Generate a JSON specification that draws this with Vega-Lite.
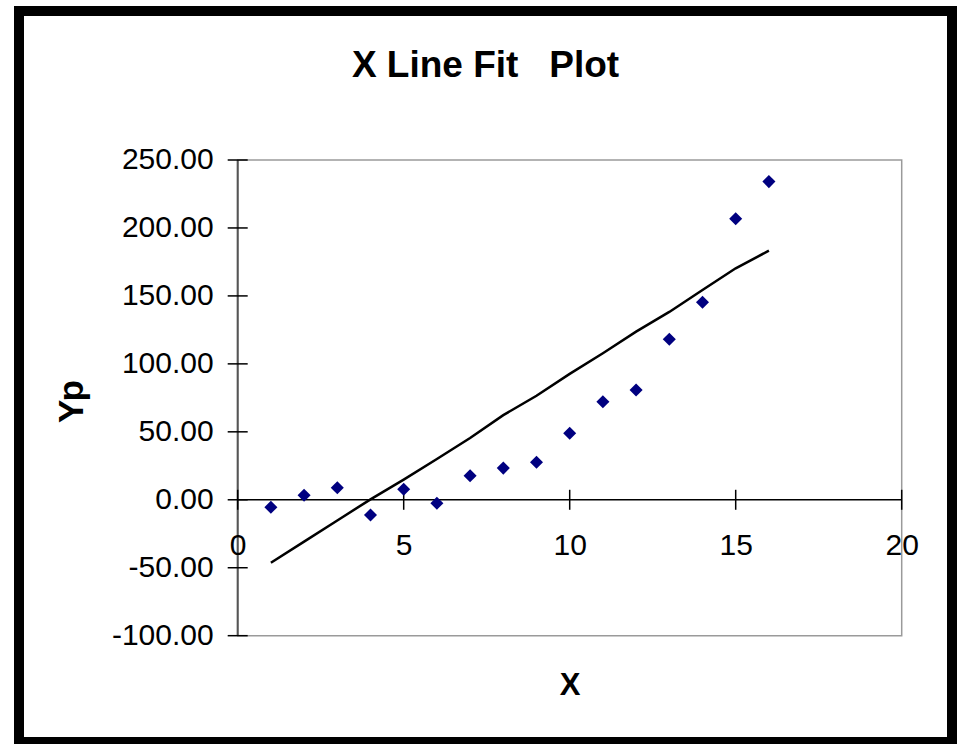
{
  "$schema": "https://vega.github.io/schema/vega-lite/v6.json",
  "autosize": {"type": "none"},
  "width": 933,
  "height": 731,
  "padding": {"left": 19, "top": 11, "right": 6, "bottom": 2},
  "background": "white",
  "title": {
    "text": "X Line Fit \u00a0 Plot",
    "font": "Liberation Sans",
    "fontSize": 37,
    "fontWeight": "bold",
    "color": "black",
    "anchor": "middle",
    "baseline": "alphabetic",
    "offset": -103
  },
  "datasets": {
    "frame": [{"x0": 0, "x1": 20, "y0": -100, "y1": 250}],
    "xticks": [{"v": 0}, {"v": 5}, {"v": 10}, {"v": 15}, {"v": 20}],
    "yticks": [{"v": -100}, {"v": -50}, {"v": 0}, {"v": 50}, {"v": 100}, {"v": 150}, {"v": 200}, {"v": 250}],
    "observed": [
      {"x": 1, "y": -5.5}, {"x": 2, "y": 3.3}, {"x": 3, "y": 8.9}, {"x": 4, "y": -11.2},
      {"x": 5, "y": 7.7}, {"x": 6, "y": -2.6}, {"x": 7, "y": 17.7}, {"x": 8, "y": 23.3},
      {"x": 9, "y": 27.6}, {"x": 10, "y": 48.9}, {"x": 11, "y": 72.2}, {"x": 12, "y": 80.8},
      {"x": 13, "y": 118.1}, {"x": 14, "y": 145.3}, {"x": 15, "y": 206.8}, {"x": 16, "y": 234.1}
    ],
    "predicted": [
      {"x": 1, "yp": -46.3}, {"x": 2, "yp": -30.8}, {"x": 3, "yp": -15.2}, {"x": 4, "yp": 0.3},
      {"x": 5, "yp": 14.8}, {"x": 6, "yp": 30.0}, {"x": 7, "yp": 45.5}, {"x": 8, "yp": 62.3},
      {"x": 9, "yp": 76.5}, {"x": 10, "yp": 92.6}, {"x": 11, "yp": 107.8}, {"x": 12, "yp": 123.7},
      {"x": 13, "yp": 138.2}, {"x": 14, "yp": 154.4}, {"x": 15, "yp": 170.3}, {"x": 16, "yp": 183.3}
    ]
  },
  "layer": [
    {
      "data": {"name": "frame"},
      "mark": {"type": "rect", "fill": "white", "stroke": "#9a9a9a", "strokeWidth": 1.5},
      "encoding": {
        "x": {
          "field": "x0", "type": "quantitative",
          "scale": {"domain": [-6.587, 21.515], "nice": false, "zero": false},
          "axis": {
            "orient": "bottom",
            "offset": -242.2,
            "values": [0, 5, 10, 15, 20],
            "domain": false, "ticks": false, "tickSize": 0, "grid": false,
            "labelFont": "Liberation Sans", "labelFontSize": 30, "labelColor": "black",
            "labelPadding": 31, "labelBaseline": "top", "labelFlush": false,
            "labelOverlap": false, "labelBound": false,
            "title": "X",
            "titleFont": "Liberation Sans", "titleFontSize": 31, "titleFontWeight": "bold",
            "titleColor": "black", "titleX": 550.5, "titleY": 186,
            "titleAlign": "center", "titleBaseline": "middle",
            "zindex": 1
          }
        },
        "x2": {"field": "x1"},
        "y": {
          "field": "y0", "type": "quantitative",
          "scale": {"domain": [-178.22, 359.63], "nice": false, "zero": false},
          "axis": {
            "orient": "left",
            "offset": -218.7,
            "values": [-100, -50, 0, 50, 100, 150, 200, 250],
            "labelExpr": "replace(format(datum.value, '.2f'), '\u2212', '-')",
            "domain": false, "ticks": false, "tickSize": 0, "grid": false,
            "labelFont": "Liberation Sans", "labelFontSize": 30, "labelColor": "black",
            "labelPadding": 24.5, "labelBaseline": "middle", "labelFlush": false,
            "labelOverlap": false, "labelBound": false,
            "title": "Yp",
            "titleFont": "Liberation Sans", "titleFontSize": 35, "titleFontWeight": "bold",
            "titleColor": "black", "titleAngle": -90, "titleX": -166, "titleY": 390,
            "titleAlign": "center", "titleBaseline": "middle",
            "zindex": 1
          }
        },
        "y2": {"field": "y1"}
      }
    },
    {
      "data": {"name": "frame"},
      "mark": {"type": "rule", "color": "#555555", "strokeWidth": 2},
      "encoding": {
        "x": {"field": "x0", "type": "quantitative"},
        "y": {"field": "y0", "type": "quantitative"},
        "y2": {"field": "y1"}
      }
    },
    {
      "data": {"name": "frame"},
      "mark": {"type": "rule", "color": "black", "strokeWidth": 1.5},
      "encoding": {
        "x": {"field": "x0", "type": "quantitative"},
        "x2": {"field": "x1"},
        "y": {"datum": 0, "type": "quantitative"}
      }
    },
    {
      "data": {"name": "yticks"},
      "mark": {"type": "tick", "orient": "horizontal", "color": "black", "size": 20, "thickness": 1.5, "opacity": 1},
      "encoding": {
        "x": {"datum": 0, "type": "quantitative"},
        "y": {"field": "v", "type": "quantitative"}
      }
    },
    {
      "data": {"name": "xticks"},
      "mark": {"type": "tick", "orient": "vertical", "color": "black", "size": 20, "thickness": 1.5, "opacity": 1},
      "encoding": {
        "x": {"field": "v", "type": "quantitative"},
        "y": {"datum": 0, "type": "quantitative"}
      }
    },
    {
      "data": {"name": "predicted"},
      "mark": {"type": "line", "color": "black", "strokeWidth": 2.5},
      "encoding": {
        "x": {"field": "x", "type": "quantitative"},
        "y": {"field": "yp", "type": "quantitative"}
      }
    },
    {
      "data": {"name": "observed"},
      "mark": {"type": "point", "shape": "diamond", "filled": true, "size": 170, "color": "#000080", "opacity": 1},
      "encoding": {
        "x": {"field": "x", "type": "quantitative"},
        "y": {"field": "y", "type": "quantitative"}
      }
    }
  ],
  "config": {
    "font": "Liberation Sans",
    "view": {"stroke": "black", "strokeWidth": 10, "fill": "white"}
  }
}
